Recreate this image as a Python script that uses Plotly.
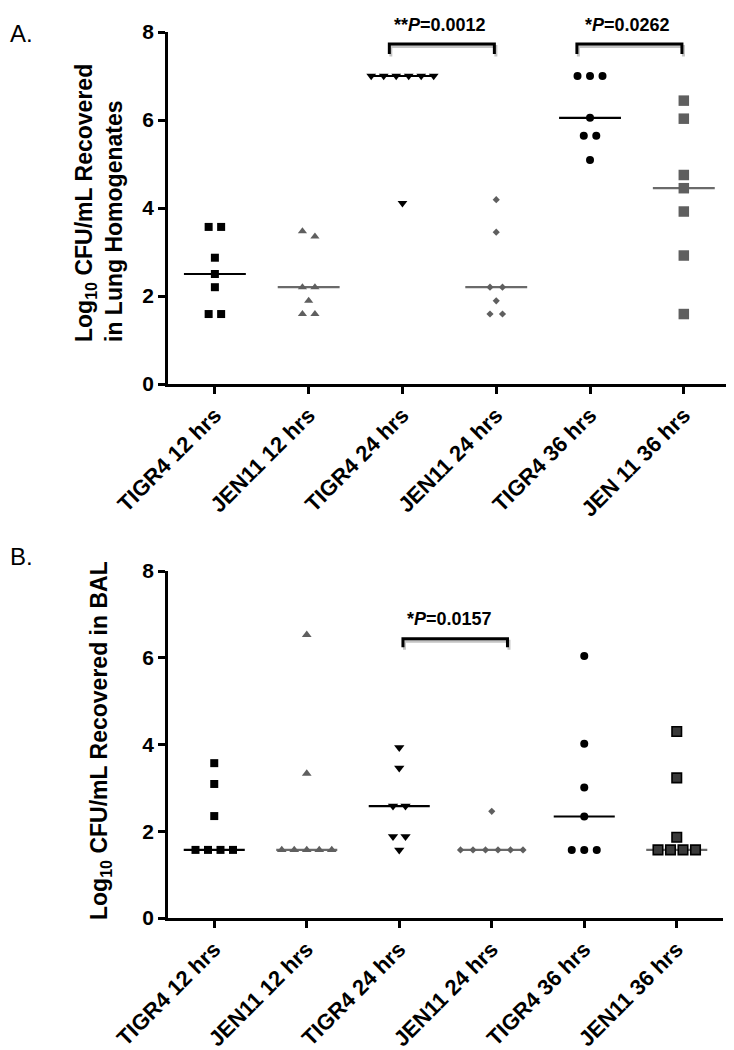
import numpy as np
import plotly.graph_objects as go

# ---------------- data ----------------
categories_A = ["TIGR4 12 hrs", "JEN11 12 hrs", "TIGR4 24 hrs",
                "JEN11 24 hrs", "TIGR4 36 hrs", "JEN 11 36 hrs"]
categories_B = ["TIGR4 12 hrs", "JEN11 12 hrs", "TIGR4 24 hrs",
                "JEN11 24 hrs", "TIGR4 36 hrs", "JEN11 36 hrs"]

# Panel A: Log10 CFU/mL in lung homogenates
lung_tigr4_12 = [3.57, 3.57, 2.87, 2.50, 2.20, 1.59, 1.59]
lung_jen11_12 = [3.47, 3.35, 2.20, 2.20, 1.89, 1.59, 1.59]
lung_tigr4_24 = [7.00, 7.00, 7.00, 7.00, 7.00, 7.00, 4.11]
lung_jen11_24 = [4.19, 3.45, 2.20, 2.20, 1.89, 1.59, 1.59]
lung_tigr4_36 = [7.00, 7.00, 7.00, 6.05, 5.64, 5.64, 5.09]
lung_jen11_36 = [6.44, 6.03, 4.75, 4.45, 3.92, 2.92, 1.59]

# Panel B: Log10 CFU/mL in BAL
bal_tigr4_12 = [3.57, 3.09, 2.35, 1.57, 1.57, 1.57, 1.57]
bal_jen11_12 = [6.53, 3.33, 1.57, 1.57, 1.57, 1.57, 1.57]
bal_tigr4_24 = [3.93, 3.46, 2.58, 2.58, 1.88, 1.88, 1.57]
bal_jen11_24 = [2.46, 1.57, 1.57, 1.57, 1.57, 1.57, 1.57]
bal_tigr4_36 = [6.04, 4.02, 3.01, 2.34, 1.57, 1.57, 1.57]
bal_jen11_36 = [4.30, 3.23, 1.86, 1.57, 1.57, 1.57, 1.57]

# significance brackets: (group i, group j, stars, p-value)
brackets_A = [(2, 3, "**", "0.0012"), (4, 5, "*", "0.0262")]
brackets_B = [(2, 3, "*", "0.0157")]

y_ticks = [0, 2, 4, 6, 8]

# ---------------- styles ----------------
W, H = 734, 1050
FONT = "Liberation Sans, Arial, Helvetica, sans-serif"
BLACK = "#000000"
GRAY = "#5f5f5f"
GRAY_LINE = "#6a6a6a"

styles_A = [
    dict(symbol="square", size=8, color=BLACK, line=dict(width=0), med=BLACK),
    dict(symbol="triangle-up", size=8, color=GRAY, line=dict(width=0), med=GRAY_LINE),
    dict(symbol="triangle-down", size=8.5, color=BLACK, line=dict(width=0), med=BLACK),
    dict(symbol="diamond", size=5.5, color=GRAY, line=dict(width=0), med=GRAY_LINE),
    dict(symbol="circle", size=8, color=BLACK, line=dict(width=0), med=BLACK),
    dict(symbol="square", size=10.5, color=GRAY, line=dict(width=0), med=GRAY_LINE),
]
styles_B = [
    dict(symbol="square", size=8, color=BLACK, line=dict(width=0), med=BLACK),
    dict(symbol="triangle-up", size=8.5, color=GRAY, line=dict(width=0), med=GRAY_LINE),
    dict(symbol="triangle-down", size=9, color=BLACK, line=dict(width=0), med=BLACK),
    dict(symbol="diamond", size=5.5, color=GRAY, line=dict(width=0), med=GRAY_LINE),
    dict(symbol="circle", size=8, color=BLACK, line=dict(width=0), med=BLACK),
    dict(symbol="square", size=9.5, color="#3a3a3a", line=dict(width=1.6, color=BLACK), med=GRAY_LINE),
]

# plot-area pixel boxes (x0, x1, ytop, ybottom)
box_A = (160, 722.7, 24, 376)
box_B = (160, 715, 563, 910)


def dom(box):
    x0, x1, yt, yb = box
    return [x0 / W, x1 / W], [1 - yb / H, 1 - yt / H]


def swarm(vals, ppu_x, ppu_y, thresh_px=10.0, step_px=12.5):
    n = len(vals)
    order = sorted(range(n), key=lambda i: -vals[i])
    clusters = []
    for i in order:
        if clusters and (vals[clusters[-1][-1]] - vals[i]) * ppu_y < thresh_px:
            clusters[-1].append(i)
        else:
            clusters.append([i])
    off = [0.0] * n
    for c in clusters:
        k = len(c)
        for j, i in enumerate(c):
            off[i] = (j - (k - 1) / 2) * step_px / ppu_x
    return off


fig = go.Figure()

panels = [
    dict(groups=[lung_tigr4_12, lung_jen11_12, lung_tigr4_24, lung_jen11_24, lung_tigr4_36, lung_jen11_36],
         cats=categories_A, styles=styles_A, box=box_A, xa="x", ya="y",
         brackets=brackets_A, bdx=(-0.14, -0.02), by=(7.5, 7.73), ty=8.16, tdx=-0.02),
    dict(groups=[bal_tigr4_12, bal_jen11_12, bal_tigr4_24, bal_jen11_24, bal_tigr4_36, bal_jen11_36],
         cats=categories_B, styles=styles_B, box=box_B, xa="x2", ya="y2",
         brackets=brackets_B, bdx=(0.04, 0.17), by=(6.24, 6.44), ty=6.9, tdx=-0.06),
]

shapes = []
annotations = []

for p in panels:
    x0, x1, yt, yb = p["box"]
    ppu_x = (x1 - x0) / 6.0
    ppu_y = (yb - yt) / 8.0
    for g, (vals, st) in enumerate(zip(p["groups"], p["styles"])):
        med = float(np.median(vals))
        fig.add_trace(go.Scatter(
            x=[g - 0.33, g + 0.33], y=[med, med], mode="lines",
            line=dict(color=st["med"], width=2.2), xaxis=p["xa"], yaxis=p["ya"],
            showlegend=False, hoverinfo="skip"))
        offs = swarm(vals, ppu_x, ppu_y)
        fig.add_trace(go.Scatter(
            x=[g + o for o in offs], y=vals, mode="markers",
            marker=dict(symbol=st["symbol"], size=st["size"], color=st["color"], line=st["line"]),
            xaxis=p["xa"], yaxis=p["ya"], showlegend=False, cliponaxis=False))
    # brackets
    sx = 1.5 / ppu_x
    sy = 2.5 / ppu_y
    for (i, j, stars, pv) in p["brackets"]:
        xl = i + p["bdx"][0]
        xr = j + p["bdx"][1]
        ybot, ytop = p["by"]
        shadow = f"M {xl+sx},{ybot-sy} L {xl+sx},{ytop-sy} L {xr+sx},{ytop-sy} L {xr+sx},{ybot-sy}"
        shapes.append(dict(type="path", path=shadow, xref=p["xa"], yref=p["ya"],
                           line=dict(color="#c4c4c4", width=3)))
        path = f"M {xl},{ybot} L {xl},{ytop} L {xr},{ytop} L {xr},{ybot}"
        shapes.append(dict(type="path", path=path, xref=p["xa"], yref=p["ya"],
                           line=dict(color=BLACK, width=3)))
        # text position converted to paper coords (so it is not hidden above the range)
        xc = (xl + xr) / 2 + p["tdx"]
        xpx = x0 + (xc + 0.5) * ppu_x
        ypx = yb - p["ty"] * ppu_y
        annotations.append(dict(
            x=xpx / W, y=1 - ypx / H, xref="paper", yref="paper",
            text=f"{stars}<i>P</i>=" + pv, showarrow=False,
            xanchor="center", yanchor="middle",
            font=dict(family=FONT, size=18, color=BLACK, weight="bold")))

# y-axis titles and panel labels
annotations.append(dict(
    x=91 / W, y=1 - 195 / H, xref="paper", yref="paper", textangle=-90,
    text="Log<sub>10</sub> CFU/mL Recovered<br>in Lung Homogenates", align="left",
    showarrow=False, xanchor="center", yanchor="middle",
    font=dict(family=FONT, size=23, color=BLACK, weight="bold")))
annotations.append(dict(
    x=92 / W, y=1 - 733 / H, xref="paper", yref="paper", textangle=-90,
    text="Log<sub>10</sub> CFU/mL Recovered in BAL",
    showarrow=False, xanchor="center", yanchor="middle",
    font=dict(family=FONT, size=23, color=BLACK, weight="bold")))
annotations.append(dict(
    x=0, y=1 - 25 / H, xref="paper", yref="paper", text="A.",
    showarrow=False, xanchor="left", yanchor="middle",
    font=dict(family=FONT, size=24, color=BLACK)))
annotations.append(dict(
    x=0, y=1 - 548 / H, xref="paper", yref="paper", text="B.",
    showarrow=False, xanchor="left", yanchor="middle",
    font=dict(family=FONT, size=24, color=BLACK)))


def xaxis_cfg(box, cats, anchor):
    d, _ = dom(box)
    return dict(domain=d, anchor=anchor, range=[-0.5, 5.5],
                tickmode="array", tickvals=list(range(6)), ticktext=cats,
                tickangle=-45, ticks="outside", ticklen=7, tickwidth=2.5, tickcolor=BLACK,
                showline=True, linecolor=BLACK, linewidth=2.5,
                showgrid=False, zeroline=False, automargin=False, fixedrange=True,
                tickfont=dict(family=FONT, size=22, color=BLACK, weight="bold"))


def yaxis_cfg(box, anchor):
    _, d = dom(box)
    return dict(domain=d, anchor=anchor, range=[0, 8],
                tickmode="array", tickvals=y_ticks, ticktext=[str(v) for v in y_ticks],
                ticks="outside", ticklen=7, tickwidth=2.5, tickcolor=BLACK,
                showline=True, linecolor=BLACK, linewidth=2.5,
                showgrid=False, zeroline=False, automargin=False, fixedrange=True,
                tickfont=dict(family=FONT, size=21, color=BLACK, weight="bold"))


fig.update_layout(
    width=W, height=H,
    margin=dict(l=0, r=0, t=0, b=0, pad=0),
    paper_bgcolor="white", plot_bgcolor="white",
    showlegend=False,
    xaxis=xaxis_cfg(box_A, categories_A, "y"),
    yaxis=yaxis_cfg(box_A, "x"),
    xaxis2=xaxis_cfg(box_B, categories_B, "y2"),
    yaxis2=yaxis_cfg(box_B, "x2"),
    shapes=shapes,
    annotations=annotations,
)

fig.write_html("out.html")
